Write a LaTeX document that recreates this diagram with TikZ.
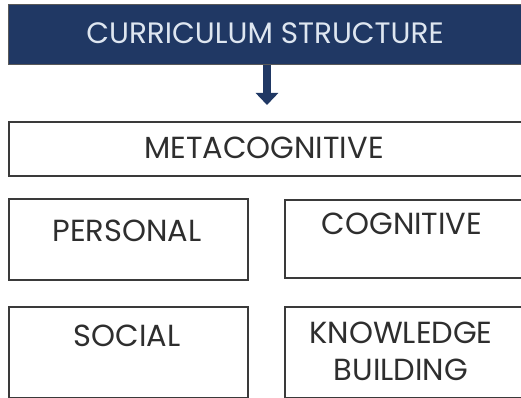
\documentclass[tikz,border=0pt]{standalone}
\usepackage{fontspec}
\setmainfont{Poppins}
\usetikzlibrary{arrows.meta}

\definecolor{titleblue}{RGB}{32,56,100}
\definecolor{titletext}{RGB}{222,230,240}
\definecolor{boxgray}{RGB}{58,58,58}

\tikzset{
	areabox/.style={draw=boxgray, line width=1.6pt, shape=rectangle, anchor=north west, inner sep=0pt},
	arealbl/.style={font=\fontsize{30.5}{37}\selectfont, text=boxgray!80!black, align=center, inner sep=0pt},
}

\begin{document}
\begin{tikzpicture}[x=1pt, y=-1pt]
	\useasboundingbox (0, 0) rectangle (521, 398);
	% Header and arrow:
	\node[shape=rectangle, anchor=north west, fill=titleblue, draw=gray!70!black, line width=0.8pt, minimum width=513pt, minimum height=60pt] (curriculum) at (8, 4){};
	\node[font=\fontsize{29.5}{32}\selectfont, text=titletext, inner sep=0pt] (curriculumlbl) at (265, 33){CURRICULUM STRUCTURE};
	\node[areabox, minimum width=513pt, minimum height=54pt] (meta) at (8, 121){};
	\node[arealbl] (metalbl) at (264, 148){METACOGNITIVE};
	\draw[-{Triangle[width=22pt, length=12pt]}, titleblue, line width=8pt, shorten >=16pt] (curriculum.south -| 267, 0) -- (meta.north -| 267, 0);
	% Four areas:
	\node[areabox, minimum width=239pt, minimum height=81pt] (personal) at (8, 198){};
	\node[arealbl] (personallbl) at (127, 231){PERSONAL};
	\node[areabox, minimum width=237pt, minimum height=78pt] (cognitive) at (284, 199){};
	\node[arealbl] (cognitivelbl) at (402, 224){COGNITIVE};
	\node[areabox, minimum width=239pt, minimum height=91pt] (social) at (8, 306){};
	\node[arealbl] (sociallbl) at (127, 336){SOCIAL};
	\node[areabox, minimum width=237pt, minimum height=91pt] (knowledge) at (284, 306){};
	\node[arealbl] (knowledgelbl) at (401, 351){KNOWLEDGE\\BUILDING};
\end{tikzpicture}
\end{document}
